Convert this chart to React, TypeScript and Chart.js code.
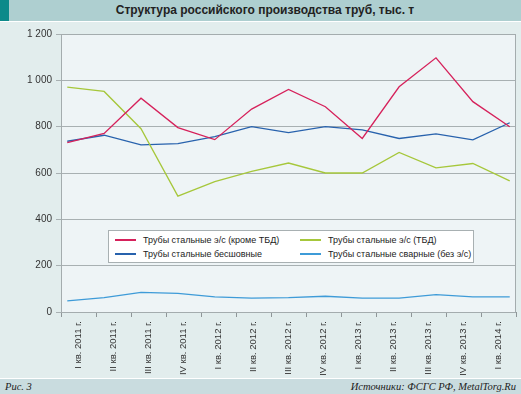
import React, { useEffect, useRef } from "react";
import { Chart, registerables } from "chart.js";

Chart.register(...registerables);

const title = "Структура российского производства труб, тыс. т";
const categories = [
  "I кв. 2011 г.", "II кв. 2011 г.", "III кв. 2011 г.", "IV кв. 2011 г.",
  "I кв. 2012 г.", "II кв. 2012 г.", "III кв. 2012 г.", "IV кв. 2012 г.",
  "I кв. 2013 г.", "II кв. 2013 г.", "III кв. 2013 г.", "IV кв. 2013 г.",
  "I кв. 2014 г.",
];
const seriesNames = [
  "Трубы стальные э/с (кроме ТБД)",
  "Трубы стальные э/с (ТБД)",
  "Трубы стальные бесшовные",
  "Трубы стальные сварные (без э/с)",
];
const esExTbd = [731, 771, 923, 796, 744, 876, 961, 886, 749, 972, 1097, 908, 800];
const esTbd = [971, 952, 791, 500, 563, 607, 643, 600, 600, 689, 622, 641, 566];
const seamless = [737, 763, 721, 727, 757, 800, 774, 800, 786, 749, 769, 743, 817];
const welded = [48, 62, 85, 80, 65, 60, 62, 68, 60, 60, 75, 65, 65];
const yTicks = [0, 200, 400, 600, 800, 1000, 1200];
const colors = ["#d6215b", "#a6c73b", "#2862ad", "#3e9bd8"];
const footLeft = "Рис. 3";
const footRight = "Источники: ФСГС РФ, MetalTorg.Ru";

const fmt = (v: number) => {
  const s = String(Math.round(v));
  return s.length > 3 ? s.slice(0, s.length - 3) + " " + s.slice(-3) : s;
};

const plotBg = {
  id: "plotBg",
  beforeDraw(chart: any) {
    const { ctx, chartArea: a } = chart;
    ctx.save();
    ctx.fillStyle = "#eef4f6";
    ctx.fillRect(a.left, a.top, a.right - a.left, a.bottom - a.top);
    ctx.restore();
  },
  afterDraw(chart: any) {
    const { ctx, chartArea: a } = chart;
    ctx.save();
    ctx.strokeStyle = "#a4acae";
    ctx.lineWidth = 1;
    ctx.strokeRect(Math.round(a.left) + 0.5, Math.round(a.top) + 0.5, Math.round(a.right - a.left) - 1, Math.round(a.bottom - a.top));
    ctx.restore();
  },
};

export default function App() {
  const ref = useRef<HTMLCanvasElement | null>(null);
  useEffect(() => {
    if (!ref.current) return;
    const seriesData = [esExTbd, esTbd, seamless, welded];
    const chart = new Chart(ref.current, {
      type: "line",
      data: {
        labels: categories,
        datasets: seriesData.map((arr, k) => ({
          label: seriesNames[k],
          data: arr.map((v, i) => ({ x: i, y: v })),
          xAxisID: "xd",
          borderColor: colors[k],
          backgroundColor: colors[k],
          borderWidth: 1.3,
          pointRadius: 0,
          tension: 0,
          fill: false,
        })),
      },
      options: {
        animation: false,
        responsive: false,
        maintainAspectRatio: false,
        layout: { padding: { top: 12, right: 5, left: 0, bottom: 0 } },
        plugins: { legend: { display: false }, tooltip: { enabled: false } },
        scales: {
          x: {
            type: "category",
            labels: categories,
            offset: true,
            grid: { offset: true, drawOnChartArea: false, tickLength: 5, color: "#8e9698" },
            border: { display: true, color: "#8e9698" },
            ticks: {
              autoSkip: false,
              minRotation: 90,
              maxRotation: 90,
              padding: 4,
              color: "#333",
              font: { family: "Liberation Sans, Arial", size: 9.5 },
            },
            afterFit: (s: any) => { s.height = 66; },
          },
          xd: {
            type: "linear",
            display: false,
            min: -0.17,
            max: 12.17,
          },
          y: {
            min: 0,
            max: 1200,
            afterBuildTicks: (s: any) => { s.ticks = yTicks.map((v) => ({ value: v })); },
            ticks: {
              callback: (v: any) => fmt(Number(v)),
              padding: 4,
              color: "#333",
              font: { family: "Liberation Sans, Arial", size: 10 },
            },
            grid: { color: "#a8b0b2", tickLength: 5 },
            border: { display: true, color: "#8e9698" },
            afterFit: (s: any) => { s.width = 61; },
          },
        },
      },
      plugins: [plotBg],
    } as any);
    return () => chart.destroy();
  }, []);

  const legendItems = [0, 1, 2, 3];
  return (
    <div style={{ position: "absolute", left: 0, top: 0, width: 521, height: 394, background: "#e2eded", overflow: "hidden", fontFamily: "Liberation Sans, Arial, sans-serif" }}>
      <div style={{ position: "absolute", left: 0, top: 0, width: 521, height: 21, background: "#aecfd0" }} />
      <div style={{ position: "absolute", left: 0, top: 0, width: 9, height: 21, background: "#0d8a8a" }} />
      <div style={{ position: "absolute", left: 0, top: 21, width: 521, height: 1, background: "#ffffff" }} />
      <div style={{ position: "absolute", left: 9, top: 0, width: 512, height: 21, lineHeight: "21px", textAlign: "center", fontWeight: "bold", fontSize: 12, color: "#222" }}>{title}</div>
      <canvas ref={ref} width={521} height={356} style={{ position: "absolute", left: 0, top: 22, width: 521, height: 356 }} />
      <div style={{ position: "absolute", left: 108, top: 230, width: 364, height: 31, background: "#ffffff", border: "1px solid #a8b0b2" }}>
        {legendItems.map((k) => {
          const col = k % 2;
          const row = Math.floor(k / 2);
          const left = col === 0 ? 6 : 191;
          const top = row === 0 ? 3 : 17;
          return (
            <div key={k} style={{ position: "absolute", left, top, height: 12, display: "flex", alignItems: "center", whiteSpace: "nowrap" }}>
              <div style={{ width: 21, height: 1.5, background: colors[k], marginRight: 7 }} />
              <span style={{ fontSize: 9, color: "#222" }}>{seriesNames[k]}</span>
            </div>
          );
        })}
      </div>
      <div style={{ position: "absolute", left: 0, top: 378, width: 521, height: 1, background: "#ffffff" }} />
      <div style={{ position: "absolute", left: 0, top: 379, width: 521, height: 15, background: "#c9dcdf" }} />
      <div style={{ position: "absolute", left: 5, top: 379, height: 15, lineHeight: "15px", fontFamily: "Liberation Serif, Times New Roman, serif", fontStyle: "italic", fontSize: 10.5, color: "#222" }}>{footLeft}</div>
      <div style={{ position: "absolute", right: 5, top: 379, height: 15, lineHeight: "15px", fontFamily: "Liberation Serif, Times New Roman, serif", fontStyle: "italic", fontSize: 10.5, color: "#222" }}>{footRight}</div>
    </div>
  );
}
